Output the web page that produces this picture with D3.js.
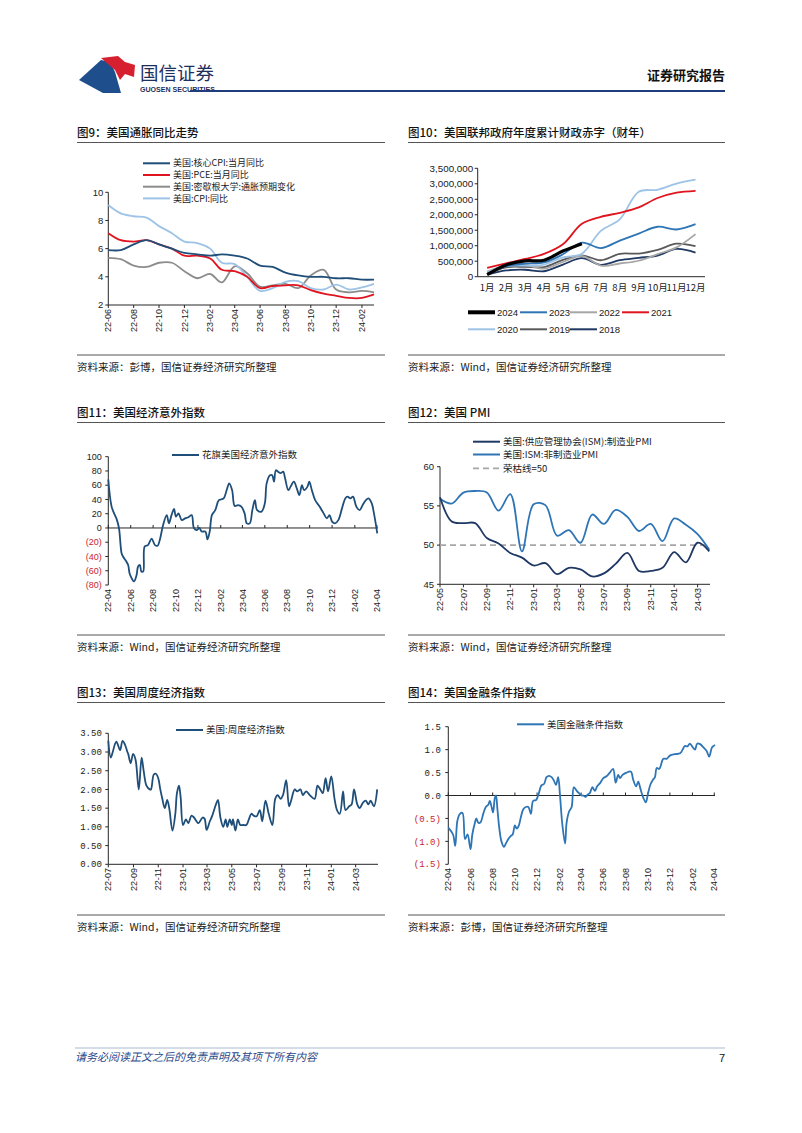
<!DOCTYPE html>
<html><head><meta charset="utf-8">
<script src="https://cdn.jsdelivr.net/npm/d3@7/dist/d3.min.js"></script>
<style>body{margin:0;background:#fff}svg{display:block}</style>
</head><body><svg id="c" width="802" height="1133"></svg>
<script>
// ---------------- DATA ----------------
// Fig 9: US inflation (monthly, 22-06 .. 24-03)
const months1 = ["22-06","22-07","22-08","22-09","22-10","22-11","22-12","23-01","23-02","23-03","23-04","23-05","23-06","23-07","23-08","23-09","23-10","23-11","23-12","24-01","24-02","24-03"];
const coreCPI = [5.9,5.9,6.3,6.6,6.3,6.0,5.7,5.6,5.5,5.6,5.5,5.3,4.8,4.7,4.3,4.1,4.0,4.0,3.9,3.9,3.8,3.8];
const pce     = [7.1,6.6,6.5,6.6,6.3,6.0,5.5,5.5,5.3,4.5,4.4,4.0,3.2,3.35,3.4,3.4,3.05,2.8,2.65,2.5,2.5,2.75];
const michigan= [5.35,5.25,4.8,4.7,5.0,5.0,4.4,3.9,4.2,3.6,4.75,4.25,3.3,3.4,3.5,3.2,4.1,4.5,3.1,2.9,3.0,2.9];
const cpi     = [9.1,8.5,8.3,8.2,7.6,7.1,6.5,6.4,6.0,5.0,4.9,4.0,3.0,3.2,3.65,3.7,3.2,3.1,3.45,3.1,3.25,3.5];
const ticks1  = ["22-06","22-08","22-10","22-12","23-02","23-04","23-06","23-08","23-10","23-12","24-02"];
const yTicks1 = [2,4,6,8,10];
const legend1 = ["美国:核心CPI:当月同比","美国:PCE:当月同比","美国:密歇根大学:通胀预期变化","美国:CPI:同比"];

// Fig 10: cumulative federal deficit by fiscal-year month
const fiscalMonths = ["1月","2月","3月","4月","5月","6月","7月","8月","9月","10月","11月","12月"];
const fy2024 = [67000,381000,510000,532000,828000,1065000];
const fy2023 = [88000,337000,421000,460000,723000,1100000,925000,1165000,1393000,1613000,1524000,1695000];
const fy2022 = [165000,357000,378000,259000,475000,668000,360000,426000,515000,726000,946000,1375000];
const fy2021 = [284000,429000,572000,736000,1047000,1706000,1932000,2064000,2238000,2540000,2711000,2772000];
const fy2020 = [134000,343000,357000,389000,624000,743000,1481000,1850000,2744000,2807000,3007000,3132000];
const fy2019 = [100000,305000,319000,310000,544000,691000,531000,739000,747000,867000,1067000,984000];
const fy2018 = [63000,201000,225000,176000,391000,600000,385000,532000,607000,684000,898000,779000];
const yTicks2 = [0,500000,1000000,1500000,2000000,2500000,3000000,3500000];
const years2 = ["2024","2023","2022","2021","2020","2019","2018"];

// Fig 11: Citi US economic surprise index
const surprise = [["2022-04-01",68],["2022-04-10",30],["2022-04-19",18],["2022-04-23",13.5],["2022-04-30",0],["2022-05-07",-35],["2022-05-11",-40],["2022-05-20",-47],["2022-05-25",-52],["2022-05-29",-64],["2022-06-03",-70],["2022-06-10",-75],["2022-06-17",-66],["2022-06-21",-54],["2022-06-26",-52],["2022-06-30",-61],["2022-07-05",-61],["2022-07-09",-26],["2022-07-18",-24],["2022-07-28",-15],["2022-08-06",-24],["2022-08-13",-25],["2022-08-20",-15],["2022-08-28",4],["2022-09-07",18],["2022-09-13",6.5],["2022-09-20",18],["2022-09-27",26.6],["2022-10-02",16],["2022-10-09",20.5],["2022-10-18",11],["2022-10-27",13.5],["2022-11-05",15],["2022-11-14",18],["2022-11-20",0],["2022-11-28",-3],["2022-12-05",0],["2022-12-11",-5],["2022-12-21",-5],["2022-12-27",-16],["2023-01-02",-5],["2023-01-08",18],["2023-01-17",25],["2023-01-27",39],["2023-02-09",41.5],["2023-02-17",53],["2023-02-24",62.6],["2023-03-04",53],["2023-03-11",31],["2023-03-20",32],["2023-03-29",30],["2023-04-07",20.5],["2023-04-13",6.5],["2023-04-21",6.5],["2023-04-28",25],["2023-05-05",39],["2023-05-11",25],["2023-05-23",23],["2023-06-01",34.5],["2023-06-06",62.6],["2023-06-15",74],["2023-06-21",74],["2023-06-26",65],["2023-07-01",81],["2023-07-07",79],["2023-07-14",77],["2023-07-21",79],["2023-07-26",70],["2023-08-04",53],["2023-08-10",58],["2023-08-19",65],["2023-08-27",55.6],["2023-09-03",46],["2023-09-10",60],["2023-09-16",53],["2023-09-25",58],["2023-09-30",65],["2023-10-07",53],["2023-10-16",39],["2023-10-28",30],["2023-11-08",20.5],["2023-11-17",13.5],["2023-11-24",18],["2023-12-01",9],["2023-12-09",6.5],["2023-12-18",11],["2023-12-28",27.5],["2024-01-06",41.5],["2024-01-12",44],["2024-01-20",41.5],["2024-01-27",44],["2024-02-05",30],["2024-02-14",25],["2024-02-22",32],["2024-03-02",39],["2024-03-09",41.5],["2024-03-18",34.5],["2024-03-24",20.5],["2024-04-02",-7.5]];
const ticks3 = ["22-04","22-06","22-08","22-10","22-12","23-02","23-04","23-06","23-08","23-10","23-12","24-02","24-04"];
const yTicks3 = [-80,-60,-40,-20,0,20,40,60,80,100];

// Fig 12: ISM PMI (monthly 22-05 .. 24-04)
const months4 = ["22-05","22-06","22-07","22-08","22-09","22-10","22-11","22-12","23-01","23-02","23-03","23-04","23-05","23-06","23-07","23-08","23-09","23-10","23-11","23-12","24-01","24-02","24-03","24-04"];
const ismMfg  = [56.1,53.0,52.8,52.8,50.9,50.2,49.0,48.4,47.4,47.7,46.3,47.1,46.9,46.0,46.4,47.6,49.0,46.7,46.7,47.1,49.1,47.8,50.3,49.2];
const ismNonMfg=[55.9,55.3,56.7,56.9,56.7,54.4,56.5,49.2,55.2,55.1,51.2,51.9,50.3,53.9,52.7,54.5,53.6,51.8,52.7,50.5,53.4,52.6,51.4,49.4];
const boomBust = 50;
const ticks4 = ["22-05","22-07","22-09","22-11","23-01","23-03","23-05","23-07","23-09","23-11","24-01","24-03"];
const yTicks4 = [45,50,55,60];
const legend4 = ["美国:供应管理协会(ISM):制造业PMI","美国:ISM:非制造业PMI","荣枯线=50"];

// Fig 13: US weekly economic index
const weekly = [["2022-07-01",3.3],["2022-07-07",2.85],["2022-07-12",3.0],["2022-07-17",3.2],["2022-07-21",3.28],["2022-07-30",3.05],["2022-08-05",3.3],["2022-08-11",3.2],["2022-08-17",3.0],["2022-08-19",2.95],["2022-08-25",2.7],["2022-08-31",2.95],["2022-09-06",2.8],["2022-09-14",2.0],["2022-09-21",2.85],["2022-09-26",2.5],["2022-10-03",2.1],["2022-10-11",2.0],["2022-10-14",2.0],["2022-10-21",2.4],["2022-10-26",2.42],["2022-11-01",2.3],["2022-11-06",2.0],["2022-11-11",1.75],["2022-11-17",1.5],["2022-11-23",1.72],["2022-11-28",1.5],["2022-12-06",0.9],["2022-12-13",1.35],["2022-12-17",1.9],["2022-12-22",2.1],["2022-12-26",1.8],["2023-01-01",1.05],["2023-01-08",1.2],["2023-01-14",1.1],["2023-01-22",1.3],["2023-01-28",1.25],["2023-02-08",1.1],["2023-02-18",1.25],["2023-02-23",1.22],["2023-02-28",0.92],["2023-03-08",1.15],["2023-03-14",1.3],["2023-03-23",1.6],["2023-03-28",1.72],["2023-04-03",1.25],["2023-04-10",1.0],["2023-04-16",1.2],["2023-04-20",1.0],["2023-04-26",1.2],["2023-05-01",1.05],["2023-05-04",1.2],["2023-05-10",0.9],["2023-05-16",1.2],["2023-05-22",1.05],["2023-05-29",1.05],["2023-06-06",1.05],["2023-06-12",1.2],["2023-06-18",1.35],["2023-06-24",1.3],["2023-07-01",1.28],["2023-07-09",1.45],["2023-07-15",1.15],["2023-07-23",1.7],["2023-07-31",1.35],["2023-08-09",1.05],["2023-08-16",1.75],["2023-08-22",1.85],["2023-08-29",1.75],["2023-09-04",1.85],["2023-09-12",2.25],["2023-09-19",1.55],["2023-09-24",1.7],["2023-10-03",2.0],["2023-10-09",1.95],["2023-10-17",2.0],["2023-10-23",1.85],["2023-10-31",1.95],["2023-11-09",1.85],["2023-11-21",1.75],["2023-11-28",2.1],["2023-12-05",2.0],["2023-12-11",1.9],["2023-12-18",2.3],["2023-12-24",1.95],["2024-01-01",2.35],["2024-01-09",1.75],["2024-01-15",1.45],["2024-01-22",1.35],["2024-01-30",1.95],["2024-02-05",1.45],["2024-02-14",1.55],["2024-02-20",1.6],["2024-02-26",2.0],["2024-03-05",1.6],["2024-03-11",1.5],["2024-03-19",1.65],["2024-03-26",1.7],["2024-04-01",1.6],["2024-04-07",1.7],["2024-04-15",1.55],["2024-04-23",2.0]];
const ticks5 = ["22-07","22-09","22-11","23-01","23-03","23-05","23-07","23-09","23-11","24-01","24-03"];
const yTicks5 = [0,0.5,1,1.5,2,2.5,3,3.5];

// Fig 14: US financial conditions index
const fci = [["2022-04-01",-0.7],["2022-04-14",-0.85],["2022-04-20",-1.1],["2022-04-26",-0.55],["2022-05-03",-0.4],["2022-05-10",-0.38],["2022-05-17",-0.95],["2022-05-24",-0.85],["2022-06-01",-1.17],["2022-06-06",-0.85],["2022-06-13",-0.6],["2022-06-17",-0.5],["2022-06-23",-0.6],["2022-06-29",-0.58],["2022-07-06",-0.4],["2022-07-13",-0.25],["2022-07-20",-0.2],["2022-07-24",-0.12],["2022-07-29",-0.25],["2022-08-02",-0.37],["2022-08-07",-0.05],["2022-08-10",0.0],["2022-08-14",-0.3],["2022-08-19",-0.7],["2022-08-25",-1.0],["2022-09-01",-1.12],["2022-09-06",-1.05],["2022-09-13",-0.95],["2022-09-20",-0.88],["2022-09-25",-0.85],["2022-10-01",-0.65],["2022-10-06",-0.72],["2022-10-12",-0.65],["2022-10-18",-0.45],["2022-10-24",-0.3],["2022-10-31",-0.25],["2022-11-07",-0.25],["2022-11-14",-0.4],["2022-11-20",-0.12],["2022-11-28",-0.1],["2022-12-04",0.0],["2022-12-13",0.22],["2022-12-20",0.25],["2022-12-27",0.4],["2023-01-03",0.43],["2023-01-10",0.4],["2023-01-16",0.33],["2023-01-22",0.23],["2023-01-28",0.4],["2023-02-02",0.0],["2023-02-08",-0.6],["2023-02-16",-1.05],["2023-02-20",-0.6],["2023-02-27",-0.35],["2023-03-06",-0.25],["2023-03-12",0.18],["2023-03-20",0.1],["2023-03-26",0.05],["2023-04-02",0.0],["2023-04-07",0.0],["2023-04-13",-0.03],["2023-04-19",0.02],["2023-04-25",0.05],["2023-05-02",0.18],["2023-05-09",0.1],["2023-05-15",0.2],["2023-05-23",0.27],["2023-06-01",0.38],["2023-06-10",0.42],["2023-06-19",0.5],["2023-06-28",0.58],["2023-07-05",0.28],["2023-07-12",0.45],["2023-07-17",0.38],["2023-07-24",0.45],["2023-08-04",0.5],["2023-08-16",0.52],["2023-08-22",0.35],["2023-08-30",0.2],["2023-09-05",0.3],["2023-09-11",0.15],["2023-09-19",-0.05],["2023-09-26",-0.15],["2023-10-02",0.05],["2023-10-09",0.25],["2023-10-16",0.35],["2023-10-21",0.4],["2023-10-26",0.6],["2023-11-02",0.58],["2023-11-13",0.8],["2023-11-22",0.8],["2023-12-01",0.87],["2023-12-15",0.9],["2023-12-29",0.92],["2024-01-05",1.0],["2024-01-11",1.08],["2024-01-18",1.07],["2024-01-25",1.13],["2024-02-02",1.05],["2024-02-08",1.0],["2024-02-14",1.13],["2024-02-22",1.12],["2024-03-02",1.05],["2024-03-11",0.97],["2024-03-18",0.85],["2024-03-26",1.05],["2024-04-03",1.1]];
const ticks6 = ["22-04","22-06","22-08","22-10","22-12","23-02","23-04","23-06","23-08","23-10","23-12","24-02","24-04"];
const yTicks6 = [-1.5,-1,-0.5,0,0.5,1,1.5];

// ---------------- DRAWING ----------------
const svg = d3.select("#c");
const SANS = '"Liberation Sans","Noto Sans CJK SC",sans-serif';
const CJK = '"Noto Sans CJK SC","Liberation Sans",sans-serif';
const MONO = '"Liberation Mono","DejaVu Sans Mono",monospace';
const AX = "#262626", NEG = "#c8262b";
const pD = d3.timeParse("%Y-%m-%d"), pM = d3.timeParse("%y-%m");
const smooth = d3.curveCatmullRom.alpha(0.5);

function txt(x, y, s, size, opts = {}) {
  return svg.append("text").attr("x", x).attr("y", y).text(s)
    .style("font-family", opts.font || SANS).style("font-size", size + "px")
    .style("font-weight", opts.weight || "normal").style("font-style", opts.italic ? "italic" : "normal")
    .attr("fill", opts.fill || "#1a1a1a").attr("text-anchor", opts.anchor || "start");
}
function hline(x1, x2, y, color, w) {
  svg.append("line").attr("x1", x1).attr("x2", x2).attr("y1", y).attr("y2", y).attr("stroke", color).attr("stroke-width", w);
}
function panel(x0, x1, top, title, source) {
  txt(x0, top + 4.5, title, 11.5, {font: CJK, weight: 500, fill: "#111"});
  hline(x0, x1, top + 10.5, "#555", 1);
  hline(x0, x1, top + 223, "#555", 1);
  txt(x0, top + 239, source, 10.5, {font: CJK});
}
function yAxis(y, x0, ticks, fmt, size, gap, font, colorFn) {
  const d = y.domain();
  svg.append("line").attr("x1", x0).attr("x2", x0).attr("y1", y(d[0])).attr("y2", y(d[1])).attr("stroke", AX);
  ticks.forEach(t => {
    svg.append("line").attr("x1", x0 - 3).attr("x2", x0).attr("y1", y(t)).attr("y2", y(t)).attr("stroke", AX);
    txt(x0 - gap, y(t), fmt(t), size, {anchor: "end", font: font, fill: colorFn ? colorFn(t) : "#1a1a1a"}).attr("dy", "0.35em");
  });
}
function xAxisRot(xpos, labels, yLine, x1, x2, tickDir, yLabel) {
  hline(x1, x2, yLine, AX, 1);
  labels.forEach(l => {
    const x = xpos(l);
    svg.append("line").attr("x1", x).attr("x2", x).attr("y1", yLine).attr("y2", yLine + 3 * tickDir).attr("stroke", AX);
    svg.append("text").attr("transform", `translate(${x},${yLabel}) rotate(-90)`).attr("text-anchor", "end").attr("dy", "0.35em")
      .style("font-family", SANS).style("font-size", "9px").attr("fill", "#1a1a1a").text(l);
  });
}
function legendItem(x, y, color, w, label, size, dash) {
  const ln = svg.append("line").attr("x1", x).attr("x2", x + 27).attr("y1", y).attr("y2", y).attr("stroke", color).attr("stroke-width", w);
  if (dash) ln.attr("stroke-dasharray", dash);
  txt(x + 30, y, label, size, {font: CJK}).attr("dy", "0.35em");
}
function path(data, x, y, color, w, dash) {
  const p = svg.append("path").datum(data).attr("fill", "none").attr("stroke", color).attr("stroke-width", w)
    .attr("stroke-linejoin", "round").attr("d", d3.line().x(d => x(d[0])).y(d => y(d[1])).curve(smooth));
  if (dash) p.attr("stroke-dasharray", dash);
  return p;
}

// ---------- header ----------
svg.append("path").attr("d", "M79,80 L101,60 L110,62 L115,72 L121,93 L103,93 Z").attr("fill", "#1f4e8c");
svg.append("path").attr("d", "M101,58 L118,56 L125,62 L135,65 L134,77 L125,74 L120,80 L115,70 L108,64 Z").attr("fill", "#d7202f");
txt(140, 80, "国信证券", 18.5, {font: CJK, fill: "#1f2f5c"});
txt(140, 91.5, "GUOSEN SECURITIES", 7, {weight: "bold", fill: "#1f2f5c"}).attr("textLength", 75).attr("lengthAdjust", "spacingAndGlyphs");
txt(725, 80, "证券研究报告", 13, {font: CJK, weight: "bold", anchor: "end", fill: "#111"});
hline(190, 725, 91, "#1f3d7a", 2);

// ---------- footer ----------
hline(75, 725, 1048, "#a9b9cc", 1);
txt(75, 1061, "请务必阅读正文之后的免责声明及其项下所有内容", 11, {font: CJK, italic: true, fill: "#2b4a8a"});
txt(725, 1062, "7", 11, {anchor: "end", fill: "#111"});

// ---------- panels ----------
panel(77, 385, 132, "图9：美国通胀同比走势", "资料来源：彭博，国信证券经济研究所整理");
panel(408, 725, 132, "图10：美国联邦政府年度累计财政赤字（财年）", "资料来源：Wind，国信证券经济研究所整理");
panel(77, 385, 412, "图11：美国经济意外指数", "资料来源：Wind，国信证券经济研究所整理");
panel(408, 725, 412, "图12：美国 PMI", "资料来源：Wind，国信证券经济研究所整理");
panel(77, 385, 692, "图13：美国周度经济指数", "资料来源：Wind，国信证券经济研究所整理");
panel(408, 725, 692, "图14：美国金融条件指数", "资料来源：彭博，国信证券经济研究所整理");

// ---------- Fig 9 ----------
{
  const x = d3.scaleTime().domain([pM("22-06"), pM("24-03")]).range([108.3, 374]);
  const y = d3.scaleLinear().domain([2, 10]).range([305, 192.3]);
  yAxis(y, 108.3, yTicks1, d3.format("d"), 9.5, 5, SANS);
  xAxisRot(l => x(pM(l)), ticks1, 305, 108.3, 374, 1, 309);
  const series = [[michigan, "#8c8c8c"], [cpi, "#9dc3e6"], [pce, "#e0141e"], [coreCPI, "#1f4e79"]];
  series.forEach(([vals, c]) => path(months1.map((m, i) => [pM(m), vals[i]]), x, y, c, 1.8));
  const cols = ["#1f4e79", "#e0141e", "#8c8c8c", "#9dc3e6"];
  legend1.forEach((l, i) => legendItem(143, 163.3 + i * 11.7, cols[i], 2, l, 9));
}

// ---------- Fig 10 ----------
{
  const x = d3.scalePoint().domain(fiscalMonths).range([477.7, 705]).padding(0.5);
  const y = d3.scaleLinear().domain([0, 3500000]).range([276.7, 168.3]);
  yAxis(y, 477.7, yTicks2, d3.format(","), 9.8, 4.5, SANS);
  hline(477.7, 705, 276.7, AX, 1);
  fiscalMonths.forEach(m => txt(x(m), 288, m, 9.5, {anchor: "middle", font: CJK}).attr("dy", "0.35em"));
  const ser = {"2018": [fy2018, "#1f3864", 1.8], "2019": [fy2019, "#595959", 1.8], "2020": [fy2020, "#9dc3e6", 1.8],
    "2022": [fy2022, "#a6a6a6", 1.8], "2021": [fy2021, "#e0141e", 1.8], "2023": [fy2023, "#2e75b6", 1.8], "2024": [fy2024, "#000000", 3.2]};
  ["2018","2019","2022","2020","2023","2021","2024"].forEach(k => {
    const [vals, c, w] = ser[k];
    path(vals.map((v, i) => [fiscalMonths[i], v]), x, y, c, w);
  });
  const pos = [[468, 312.3], [520, 312.3], [570, 312.3], [622, 312.3], [468, 329.3], [520, 329.3], [570, 329.3]];
  years2.forEach((k, i) => {
    const [, c] = ser[k];
    svg.append("line").attr("x1", pos[i][0]).attr("x2", pos[i][0] + 27).attr("y1", pos[i][1]).attr("y2", pos[i][1])
      .attr("stroke", c).attr("stroke-width", k === "2024" ? 4 : 2);
    txt(pos[i][0] + 29, pos[i][1], k, 9.5, {}).attr("dy", "0.35em");
  });
}

// ---------- Fig 11 ----------
{
  const x = d3.scaleTime().domain([pD("2022-04-01"), pD("2024-04-04")]).range([108.3, 378]);
  const y = d3.scaleLinear().domain([-80, 100]).range([585, 456.7]);
  yAxis(y, 108.3, yTicks3, v => v < 0 ? `(${-v})` : String(v), 9, 6.5, SANS, v => v < 0 ? NEG : "#1a1a1a");
  xAxisRot(l => x(pM(l)), ticks3, y(0), 108.3, 378, -1, 589);
  path(surprise.map(d => [pD(d[0]), d[1]]), x, y, "#1f4e79", 1.8);
  legendItem(172, 455, "#1f4e79", 2, "花旗美国经济意外指数", 9.5);
}

// ---------- Fig 12 ----------
{
  const x = d3.scalePoint().domain(months4).range([440, 709.3]);
  const y = d3.scaleLinear().domain([45, 60]).range([584.3, 466.7]);
  yAxis(y, 440, yTicks4, d3.format("d"), 9.5, 6, SANS);
  xAxisRot(l => x(l), ticks4, 584.3, 440, 710, 1, 588);
  svg.append("line").attr("x1", 440).attr("x2", 709.3).attr("y1", y(boomBust)).attr("y2", y(boomBust))
    .attr("stroke", "#a6a6a6").attr("stroke-width", 1.8).attr("stroke-dasharray", "6,4");
  path(months4.map((m, i) => [m, ismNonMfg[i]]), x, y, "#2e75b6", 1.8);
  path(months4.map((m, i) => [m, ismMfg[i]]), x, y, "#1f3864", 1.8);
  legendItem(473, 441.7, "#1f3864", 2, legend4[0], 9.5);
  legendItem(473, 454.5, "#2e75b6", 2, legend4[1], 9.5);
  legendItem(473, 468.3, "#a6a6a6", 1.8, legend4[2], 9.5, "6,4");
}

// ---------- Fig 13 ----------
{
  const x = d3.scaleTime().domain([pD("2022-07-01"), pD("2024-04-25")]).range([108.3, 378]);
  const y = d3.scaleLinear().domain([0, 3.5]).range([864.3, 733.3]);
  yAxis(y, 108.3, yTicks5, d3.format(".2f"), 9, 6.5, MONO);
  xAxisRot(l => x(pM(l)), ticks5, 864.3, 108.3, 378, 1, 868);
  path(weekly.map(d => [pD(d[0]), d[1]]), x, y, "#1f4e79", 1.8);
  legendItem(176, 730, "#1f4e79", 2, "美国:周度经济指数", 9.5);
}

// ---------- Fig 14 ----------
{
  const x = d3.scaleTime().domain([pD("2022-04-01"), pD("2024-04-03")]).range([448.3, 715]);
  const y = d3.scaleLinear().domain([-1.5, 1.5]).range([864.3, 726.7]);
  const f = d3.format(".1f");
  yAxis(y, 448.3, yTicks6, v => v < 0 ? `(${f(-v)})` : f(v), 9, 7.5, MONO, v => v < 0 ? NEG : "#1a1a1a");
  xAxisRot(l => x(pM(l)), ticks6, y(0), 448.3, 715, -1, 868);
  path(fci.map(d => [pD(d[0]), d[1]]), x, y, "#2e75b6", 1.8);
  legendItem(517, 724.3, "#2e75b6", 2, "美国金融条件指数", 9.5);
}
</script></body></html>
